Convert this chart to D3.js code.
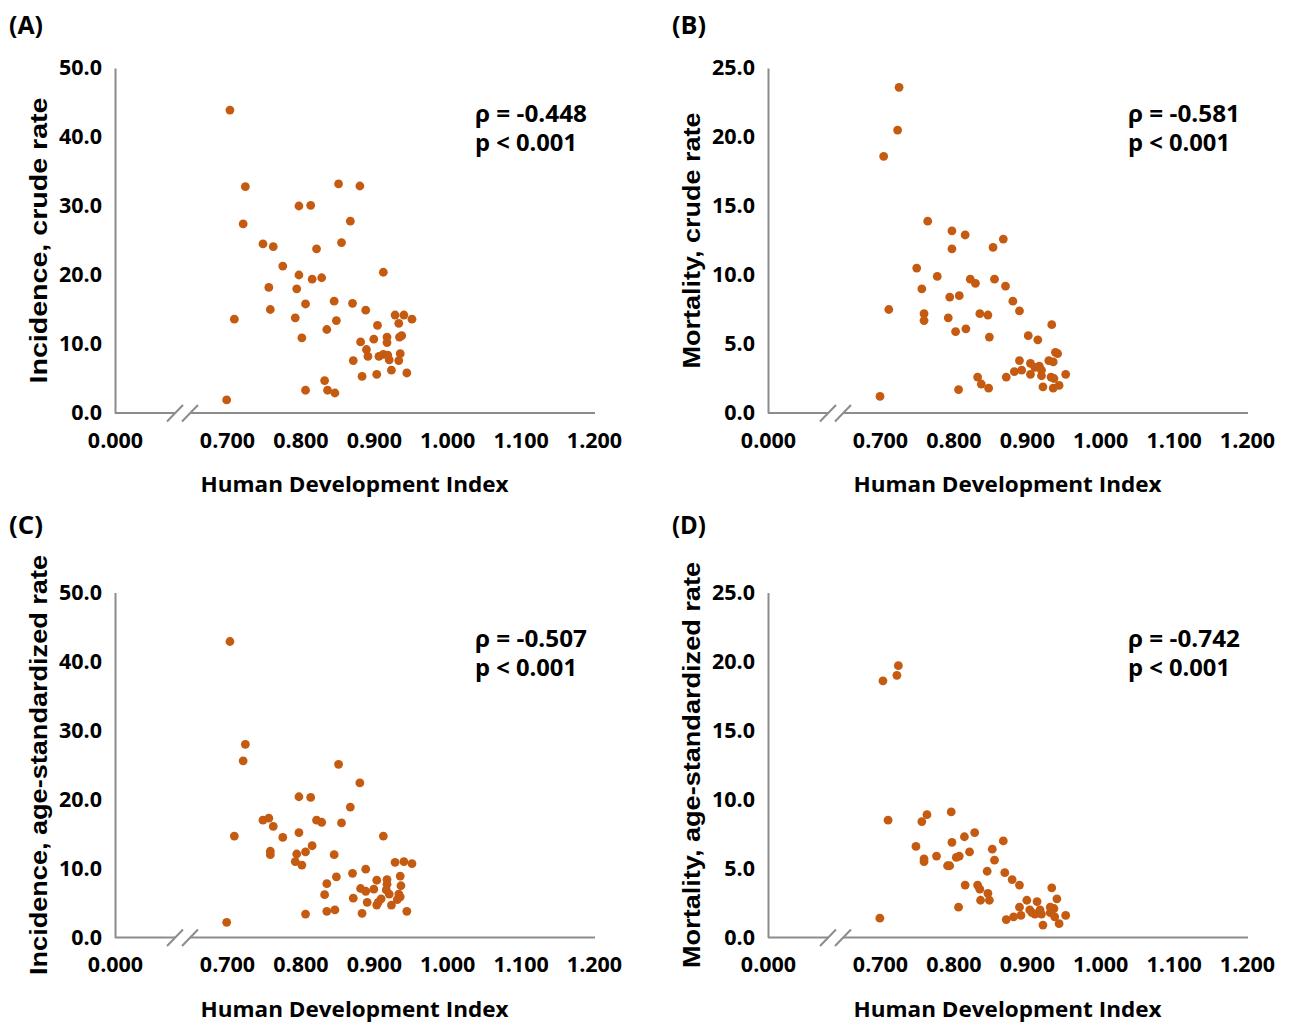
<!DOCTYPE html>
<html><head><meta charset="utf-8">
<script src="https://cdn.jsdelivr.net/npm/d3@7"></script>
<style>body{margin:0;background:#fff}</style>
</head><body>
<svg id="c" width="1290" height="1023"></svg>
<script>
// ---- data ----
const xTicks = [0, 0.7, 0.8, 0.9, 1.0, 1.1, 1.2];

const hdiA = [0.704,0.725,0.722,0.749,0.763,0.776,0.798,0.814,0.852,0.881,0.868,0.856,0.822,0.798,0.816,0.829,0.913,0.757,0.795,0.759,0.807,0.846,0.871,0.889,0.710,0.793,0.849,0.836,0.802,0.905,0.929,0.941,0.952,0.934,0.918,0.938,0.935,0.882,0.900,0.918,0.890,0.892,0.907,0.913,0.919,0.921,0.936,0.934,0.872,0.924,0.945,0.884,0.904,0.833,0.807,0.837,0.847,0.698];
const incCrude = [43.9,32.8,27.4,24.5,24.1,21.3,30.0,30.1,33.2,32.9,27.8,24.7,23.8,20.0,19.4,19.6,20.4,18.2,18.0,15.0,15.8,16.2,15.9,14.9,13.6,13.8,13.4,12.1,10.9,12.7,14.2,14.2,13.6,13.0,11.0,11.2,11.0,10.3,10.7,10.2,9.2,8.2,8.2,8.5,8.4,7.7,8.6,7.6,7.6,6.2,5.8,5.3,5.6,4.7,3.3,3.3,2.9,1.9];

const hdiB = [0.726,0.724,0.705,0.765,0.798,0.816,0.868,0.854,0.798,0.750,0.778,0.823,0.830,0.856,0.871,0.757,0.795,0.808,0.881,0.890,0.712,0.760,0.760,0.836,0.847,0.793,0.803,0.817,0.849,0.934,0.902,0.915,0.939,0.942,0.930,0.936,0.890,0.905,0.917,0.911,0.920,0.883,0.893,0.905,0.920,0.953,0.933,0.937,0.872,0.833,0.838,0.848,0.807,0.922,0.936,0.944,0.700];
const mortCrude = [23.6,20.5,18.6,13.9,13.2,12.9,12.6,12.0,11.9,10.5,9.9,9.7,9.4,9.7,9.2,9.0,8.4,8.5,8.1,7.4,7.5,7.2,6.7,7.2,7.1,6.9,5.9,6.1,5.5,6.4,5.6,5.3,4.4,4.3,3.8,3.7,3.8,3.6,3.4,3.3,3.1,3.0,3.1,2.8,2.7,2.8,2.6,2.5,2.6,2.6,2.1,1.8,1.7,1.9,1.8,2.0,1.2];

const hdiC = [0.704,0.725,0.722,0.852,0.881,0.798,0.814,0.868,0.749,0.757,0.822,0.829,0.856,0.763,0.776,0.710,0.798,0.913,0.816,0.759,0.759,0.795,0.807,0.793,0.802,0.846,0.929,0.941,0.952,0.889,0.871,0.849,0.836,0.936,0.904,0.918,0.918,0.937,0.882,0.889,0.900,0.917,0.921,0.934,0.936,0.833,0.872,0.910,0.906,0.932,0.891,0.904,0.924,0.836,0.847,0.945,0.807,0.884,0.698];
const incAsr = [42.9,28.0,25.6,25.1,22.4,20.4,20.3,18.9,17.0,17.3,17.0,16.7,16.6,16.1,14.5,14.7,15.2,14.7,13.3,12.5,12.0,12.1,12.4,11.0,10.5,12.0,10.9,11.0,10.7,9.9,9.3,8.8,7.8,8.9,8.3,8.4,7.7,7.5,7.1,6.7,7.0,6.9,6.3,6.3,5.9,6.2,5.7,5.6,5.1,5.5,5.1,4.7,4.7,3.8,4.0,3.8,3.4,3.5,2.2];

const hdiD = [0.725,0.723,0.704,0.797,0.764,0.757,0.711,0.829,0.815,0.868,0.798,0.749,0.853,0.822,0.777,0.760,0.760,0.804,0.808,0.856,0.792,0.795,0.846,0.870,0.880,0.890,0.816,0.833,0.836,0.847,0.934,0.837,0.849,0.941,0.900,0.914,0.890,0.937,0.807,0.904,0.918,0.932,0.911,0.920,0.892,0.907,0.938,0.953,0.882,0.872,0.944,0.922,0.699,0.932];
const mortAsr = [19.7,19.0,18.6,9.1,8.9,8.4,8.5,7.6,7.3,7.0,6.9,6.6,6.4,6.2,5.9,5.7,5.5,5.8,5.9,5.6,5.2,5.2,4.8,4.7,4.2,3.8,3.8,3.8,3.5,3.2,3.6,2.7,2.7,2.8,2.7,2.6,2.2,2.1,2.2,2.0,2.0,1.8,1.7,1.7,1.6,1.8,1.5,1.6,1.5,1.3,1.0,0.9,1.4,2.2];

const panels = [
  {letter:'(A)', xs:hdiA, ys:incCrude, yMax:50, title:'Incidence, crude rate', titleLen:286, rho:'ρ = -0.448', col:0, row:0},
  {letter:'(B)', xs:hdiB, ys:mortCrude, yMax:25, title:'Mortality, crude rate', titleLen:256, rho:'ρ = -0.581', col:1, row:0},
  {letter:'(C)', xs:hdiC, ys:incAsr, yMax:50, title:'Incidence, age-standardized rate', titleLen:420, rho:'ρ = -0.507', col:0, row:1},
  {letter:'(D)', xs:hdiD, ys:mortAsr, yMax:25, title:'Mortality, age-standardized rate', titleLen:406, rho:'ρ = -0.742', col:1, row:1}
];

// ---- layout ----
const svg = d3.select('#c');
svg.append('rect').attr('width',1290).attr('height',1023).attr('fill','#fff');
const CAL = "'Open Sans', 'Noto Sans', sans-serif";
const ARI = "'Liberation Sans', Arial, sans-serif";
const AX = '#8c8c8c';
const DOT = '#C55A11';

panels.forEach(p => {
  const L = 115 + p.col*653, T = 68 + p.row*524.5, H = 345;
  const B = T + H;
  const x = d3.scaleLinear().domain([0, 0.7, 1.2]).range([L, L+112, L+479]);
  const y = d3.scaleLinear().domain([0, p.yMax]).range([B, T]);
  const g = svg.append('g');

  // x axis
  const gx = g.append('g').attr('transform', `translate(0,${B})`)
    .call(d3.axisBottom(x).tickValues(xTicks).tickFormat(d3.format('.3f')).tickSize(0).tickSizeOuter(0));
  gx.select('.domain').attr('stroke', AX).attr('stroke-width', 2).attr('d', `M${L},0H${L+480}`);
  gx.selectAll('text').attr('y', 34.5).attr('dy', null)
    .attr('font-family', CAL).attr('font-weight', 700).attr('font-size', 21.5).attr('fill', '#000');

  // y axis
  const gy = g.append('g').attr('transform', `translate(${L},0)`)
    .call(d3.axisLeft(y).tickValues(d3.range(0, p.yMax + 0.001, p.yMax/5)).tickFormat(d3.format('.1f')).tickSize(0).tickSizeOuter(0).tickPadding(13));
  gy.select('.domain').attr('stroke', AX).attr('stroke-width', 2);
  gy.selectAll('text').attr('font-family', CAL).attr('font-weight', 700).attr('font-size', 21.5).attr('fill', '#000');

  // axis break
  g.append('rect').attr('x', L+60).attr('y', B-3).attr('width', 15).attr('height', 6).attr('fill', '#fff');
  [0, 15].forEach(o => {
    g.append('line').attr('x1', L+52+o).attr('y1', B+8.5).attr('x2', L+68+o).attr('y2', B-8)
      .attr('stroke', AX).attr('stroke-width', 2);
  });

  // points
  g.append('g').selectAll('circle').data(p.xs.map((v,i)=>[v, p.ys[i]])).join('circle')
    .attr('cx', d => x(d[0])).attr('cy', d => y(d[1])).attr('r', 4.4).attr('fill', DOT);

  // annotation
  g.append('text').attr('x', L+360).attr('y', T+54).text(p.rho)
    .attr('font-family', CAL).attr('font-weight', 700).attr('font-size', 23)
    .attr('textLength', 112).attr('lengthAdjust', 'spacingAndGlyphs');
  g.append('text').attr('x', L+360).attr('y', T+83).text('p < 0.001')
    .attr('font-family', CAL).attr('font-weight', 700).attr('font-size', 23)
    .attr('textLength', 102).attr('lengthAdjust', 'spacingAndGlyphs');

  // x title
  g.append('text').attr('x', L+239.5).attr('y', B+79).attr('text-anchor', 'middle')
    .text('Human Development Index')
    .attr('font-family', CAL).attr('font-weight', 700).attr('font-size', 22)
    .attr('textLength', 308).attr('lengthAdjust', 'spacingAndGlyphs');

  // y title
  g.append('text').attr('transform', `translate(${L-68.3},${T+H/2}) rotate(-90)`)
    .attr('text-anchor', 'middle').text(p.title)
    .attr('font-family', ARI).attr('font-weight', 700).attr('font-size', 23)
    .attr('textLength', p.titleLen).attr('lengthAdjust', 'spacingAndGlyphs');

  // panel letter
  svg.append('text').attr('x', 9 + p.col*663).attr('y', 34 + p.row*500).text(p.letter)
    .attr('font-family', CAL).attr('font-weight', 700).attr('font-size', 25)
    .attr('textLength', 34).attr('lengthAdjust', 'spacingAndGlyphs');
});
</script>
</body></html>
